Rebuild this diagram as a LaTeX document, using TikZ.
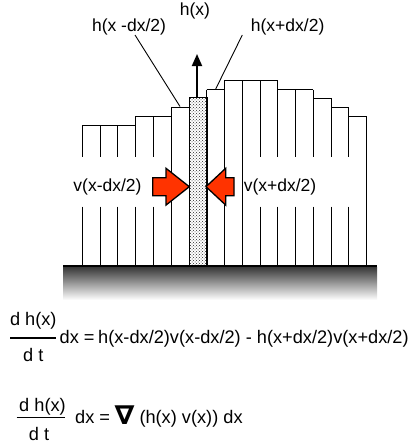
\documentclass[tikz,border=0pt]{standalone}
\usepackage{fontspec}
\setmainfont{Liberation Sans}
\newfontfamily\nablafont{DejaVu Sans}
\usetikzlibrary{arrows.meta,patterns}
\begin{document}
\begin{tikzpicture}[x=1pt,y=-1pt,
  lbl/.style={font=\fontsize{17.5}{20}\selectfont, inner sep=0pt},
  eq/.style={font=\fontsize{18.2}{21}\selectfont, inner sep=0pt, anchor=base west},
  colline/.style={draw=black, line width=0.9pt},
  shadedcol/.style={draw=black, line width=0.9pt, inner sep=0pt, minimum width=17.77pt, anchor=south west, pattern=crosshatch dots, pattern color=black!85},
  redarrow/.style={draw=black, line width=1.3pt, fill={rgb,255:red,255;green,51;blue,0}, line join=miter},
  leader/.style={draw=black, line width=0.9pt},
  uparrow/.style={draw=black, line width=1.8pt, -{Triangle[width=10pt,length=12pt]}}]
\useasboundingbox (0,0) rectangle (411,448);
% ground
\fill[top color=black!78, bottom color=white] (63,267) rectangle (377,300);
% column top edges
\foreach \j/\t in {1/125,2/125,3/125,4/116,5/116,6/107,8/89.5,9/80.5,10/80.5,11/80.5,12/89.5,13/89.5,14/98,15/107,16/116}{
  \pgfmathsetmacro{\xa}{82.3+17.77*(\j-1)}
  \pgfmathsetmacro{\xb}{82.3+17.77*\j}
  \draw[colline] (\xa,\t) -- (\xb,\t);
}
% column vertical lines (broken where the labels sit)
\foreach \i/\t/\brk in {0/125/1,1/125/1,2/125/1,3/116/1,4/116/1,5/107/0,7/89.5/0,8/80.5/0,9/80.5/0,10/80.5/1,11/80.5/1,12/89.5/1,13/89.5/1,14/98/1,15/107/1,16/116/0}{
  \pgfmathsetmacro{\xx}{82.3+17.77*\i}
  \ifnum\brk=1
    \draw[colline] (\xx,\t) -- (\xx,156.5);
    \draw[colline] (\xx,206.5) -- (\xx,266);
  \else
    \draw[colline] (\xx,\t) -- (\xx,266);
  \fi
}
\node[shadedcol, minimum height=168pt] (col7) at (188.92,266) {};
\draw[line width=2.6pt] (63,266) -- (377,266);
% labels
\node[lbl] (hx) at (195,11) {h(x)};
\node[lbl] (hl) at (129,27) {h(x -dx/2)};
\node[lbl, anchor=west] (hr) at (250.7,27) {h(x+dx/2)};
\node[lbl] (vl) at (107.5,187) {v(x-dx/2)};
\node[lbl, anchor=west] (vr) at (243.6,187) {v(x+dx/2)};
% leaders and up arrow
\coordinate (hlfoot) at (135,35);
\coordinate (hrfoot) at (242.3,35);
\coordinate (c6top) at (180,106.5);
\coordinate (c8top) at (215.7,89);
\coordinate (c7top) at (197,98);
\coordinate (uptip) at (197,54);
\draw[leader] (hlfoot) -- (c6top);
\draw[leader] (hrfoot) -- (c8top);
\draw[uparrow] (c7top) -- (uptip);
% red block arrows
\draw[redarrow] (152.7,177.7) -- (166,177.7) -- (166,168.3) -- (189.3,186.7) -- (166,205.1) -- (166,195.7) -- (152.7,195.7) -- cycle;
\draw[redarrow] (234,177.7) -- (225.7,177.7) -- (225.7,168.3) -- (206,186.7) -- (225.7,205.1) -- (225.7,195.7) -- (234,195.7) -- cycle;
% equation 1
\node[eq, anchor=base] (n1) at (33.3,325.7) {d h(x)};
\draw[line width=1.3pt] (10,338) -- (56,338);
\node[eq, anchor=base] (d1) at (33.3,361) {d t};
\node[eq] (e1a) at (59.5,343.3) {dx =};
\node[eq] (e1b) at (98,343.3) {h(x-dx/2)v(x-dx/2) - h(x+dx/2)v(x+dx/2)};
% equation 2
\node[eq, anchor=base] (n2) at (42.5,411) {d h(x)};
\draw[line width=1.3pt] (16.7,417.7) -- (65,417.7);
\node[eq, anchor=base] (d2) at (39,440) {d t};
\node[eq] (e2a) at (75,423.3) {dx =};
\node[inner sep=0pt, anchor=base west, font=\nablafont\bfseries\fontsize{26}{30}\selectfont] (nab) at (114.5,424) {\scalebox{1.1}[1]{∇}};
\node[eq] (e2b) at (139.3,423.3) {(h(x) v(x)) dx};
\end{tikzpicture}
\end{document}
